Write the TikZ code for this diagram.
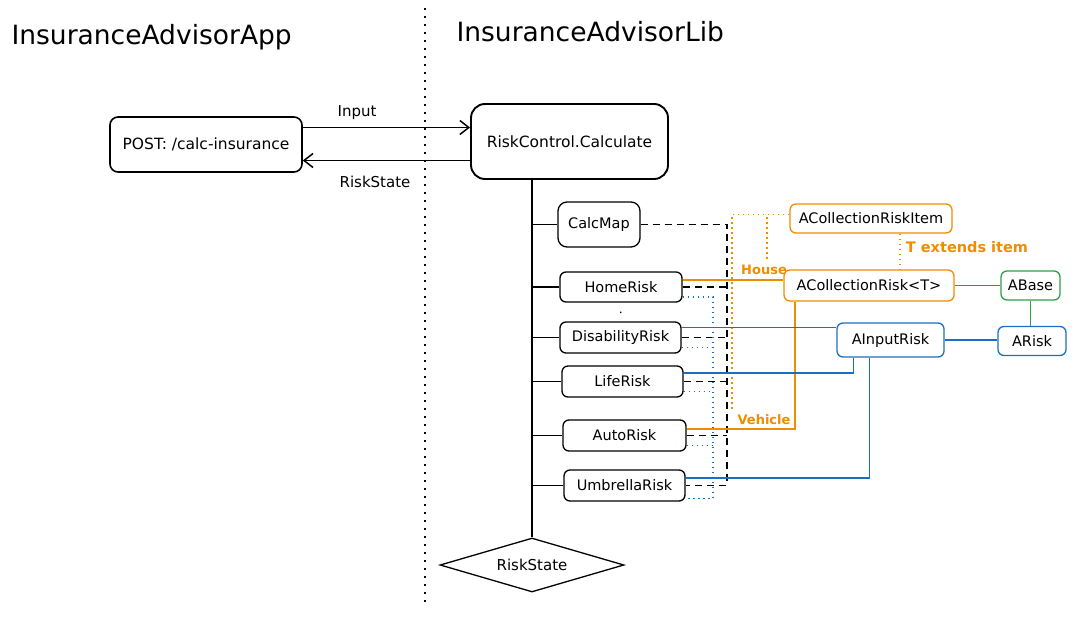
\documentclass[tikz,border=0pt]{standalone}
\usepackage{fontspec}
\usepackage{tikz}
\setmainfont{DejaVu Sans}
\usetikzlibrary{arrows.meta}
\usetikzlibrary{shapes.geometric}
\definecolor{morange}{rgb}{0.94, 0.55, 0.0}
\definecolor{mblue}{rgb}{0.10, 0.44, 0.76}
\definecolor{mgreen}{rgb}{0.18, 0.62, 0.27}

\tikzset{
  box/.style={draw, line width=1.6pt, rounded corners=8pt, inner sep=2pt,
    font=\fontsize{15.5}{18}\selectfont},
  riskbox/.style={draw, line width=1.3pt, rounded corners=6pt, inner sep=1pt,
    font=\fontsize{14.5}{17}\selectfont},
  dline/.style={line width=1.3pt, dash pattern=on 7pt off 5pt},
  bdot/.style={mblue, line width=1.2pt, dash pattern=on 1.5pt off 3.5pt},
  odot/.style={morange, line width=1.2pt, dash pattern=on 1.5pt off 3.5pt},
  olabel/.style={morange, font=\fontsize{13}{15}\selectfont\bfseries},
  tlabel/.style={font=\fontsize{15}{18}\selectfont},
  bar/.style={-{Straight Barb[length=9pt, width=14pt, line width=1.5pt]}, line width=1.8pt}
}

\begin{document}
\begin{tikzpicture}[x=1pt, y=-1pt]
      \useasboundingbox (0, 0) rectangle (1075, 617);

      \node (apptitle) at (8, 37) [anchor=west, font=\fontsize{26.5}{30}\selectfont] {InsuranceAdvisorApp};
      \node (libtitle) at (453, 32) [anchor=west, font=\fontsize{26.5}{30}\selectfont] {InsuranceAdvisorLib};
      \draw [line width=2pt, dash pattern=on 2pt off 6pt] (425, 8) -- (425, 605);

      \node (post) at (206, 144.5) [box, minimum width=192pt, minimum height=55pt] {POST: /calc-insurance};
      \node (ctrl) at (569.5, 141.5) [box, rounded corners=14pt, line width=1.9pt, minimum width=197pt, minimum height=75pt] {RiskControl.Calculate};

      \draw [bar] ([yshift=17pt]post.east) -- ([yshift=17pt]post.east -| ctrl.west);
      \draw [bar] ([yshift=-19pt]ctrl.west) -- ([yshift=-19pt]ctrl.west -| post.east);
      \node (inlabel) at (357, 113) [tlabel] {Input};
      \node (outlabel) at (375, 182) [tlabel] {RiskState};

      \node (state) at (532, 565) [draw, diamond, aspect=3.4, line width=1.3pt, minimum width=184pt, minimum height=54pt, inner sep=0pt, font=\fontsize{15}{18}\selectfont] {RiskState};
      \draw [line width=1.3pt] (state.north |- ctrl.south) -- (state.north);

      \node (calcmap) at (599, 224.5) [riskbox, rounded corners=9pt, minimum width=82pt, minimum height=45pt] {CalcMap};
      \node (home) at (621, 287) [riskbox, minimum width=122pt, minimum height=30pt] {HomeRisk};
      \node (dis) at (620.5, 337.5) [riskbox, minimum width=121pt, minimum height=31pt] {DisabilityRisk};
      \node (life) at (622.5, 381.5) [riskbox, minimum width=121pt, minimum height=31pt] {LifeRisk};
      \node (auto) at (624.5, 435.5) [riskbox, minimum width=123pt, minimum height=31pt] {AutoRisk};
      \node (umb) at (624.5, 485.5) [riskbox, minimum width=121pt, minimum height=31pt] {UmbrellaRisk};

      \foreach \r in {calcmap, home, dis, life, auto, umb}
        \draw [line width=1.3pt] (\r.west -| state.north) -- (\r.west);

      \draw [line width=1.3pt, dash pattern=on 0pt off 9pt on 1.5pt off 30pt] (home.south) -- (dis.north);

      \coordinate (dbus) at (727, 0);
      \draw [dline] (calcmap.east) -- (calcmap.east -| dbus) -- (umb.east -| dbus) -- (umb.east);
      \foreach \r in {home, dis, life, auto}
        \draw [dline] (\r.east) -- (\r.east -| dbus);

      \coordinate (bbus) at (713, 0);
      \draw [bdot] ([yshift=-10pt]home.east) -- ([yshift=-10pt]home.east -| bbus) -- ([yshift=-13pt]umb.east -| bbus) -- ([yshift=-13pt]umb.east);
      \foreach \r in {dis, life, auto}
        \draw [bdot] ([yshift=-10pt]\r.east) -- ([yshift=-10pt]\r.east -| bbus);

      \node (item) at (871, 218.5) [riskbox, draw=morange, minimum width=162pt, minimum height=29pt] {ACollectionRiskItem};
      \node (colrisk) at (869, 285.5) [riskbox, draw=morange, minimum width=170pt, minimum height=31pt] {ACollectionRisk<T>};
      \node (abase) at (1030.5, 285.5) [riskbox, draw=mgreen, minimum width=59pt, minimum height=29pt] {ABase};
      \node (arisk) at (1032, 341) [riskbox, draw=mblue, minimum width=68pt, minimum height=29pt] {ARisk};
      \node (input) at (890.5, 340) [riskbox, draw=mblue, minimum width=107pt, minimum height=34pt] {AInputRisk};

      \node (house) at (764, 270) [olabel] {House};
      \node (vehicle) at (764, 420) [olabel] {Vehicle};
      \node (extends) at (967, 247) [olabel, font=\fontsize{14.5}{17}\selectfont\bfseries] {T extends item};

      \draw [morange, line width=1.3pt] ([yshift=7pt]home.east) -- ([yshift=7pt]home.east -| colrisk.west);
      \draw [morange, line width=1.3pt] ([yshift=6.5pt]auto.east) -| ([xshift=-74pt]colrisk.south);

      \draw [odot] ([yshift=4pt]item.west) -| ([xshift=3pt]house.north);
      \draw [odot] ([yshift=4pt]item.west) -| ([xshift=-2pt]vehicle.north west);
      \draw [odot] ([xshift=29pt]item.south) -- ([xshift=29pt]item.south |- colrisk.north);

      \draw [mblue, line width=1.3pt] ([yshift=10pt]dis.east) -- ([yshift=10pt]dis.east -| input.west);
      \draw [mblue, line width=1.3pt] ([yshift=8.5pt]life.east) -| ([xshift=-37pt]input.south);
      \draw [mblue, line width=1.3pt] ([yshift=7.5pt]umb.east) -| ([xshift=-21pt]input.south);
      \draw [mblue, line width=1.3pt] (input.east) -- (input.east -| arisk.west);

      \draw [mgreen, line width=1.3pt] (colrisk.east) -- (abase.west);
      \draw [mgreen, line width=1.3pt] (abase.south) -- (abase.south |- arisk.north);
    \end{tikzpicture}
\end{document}
